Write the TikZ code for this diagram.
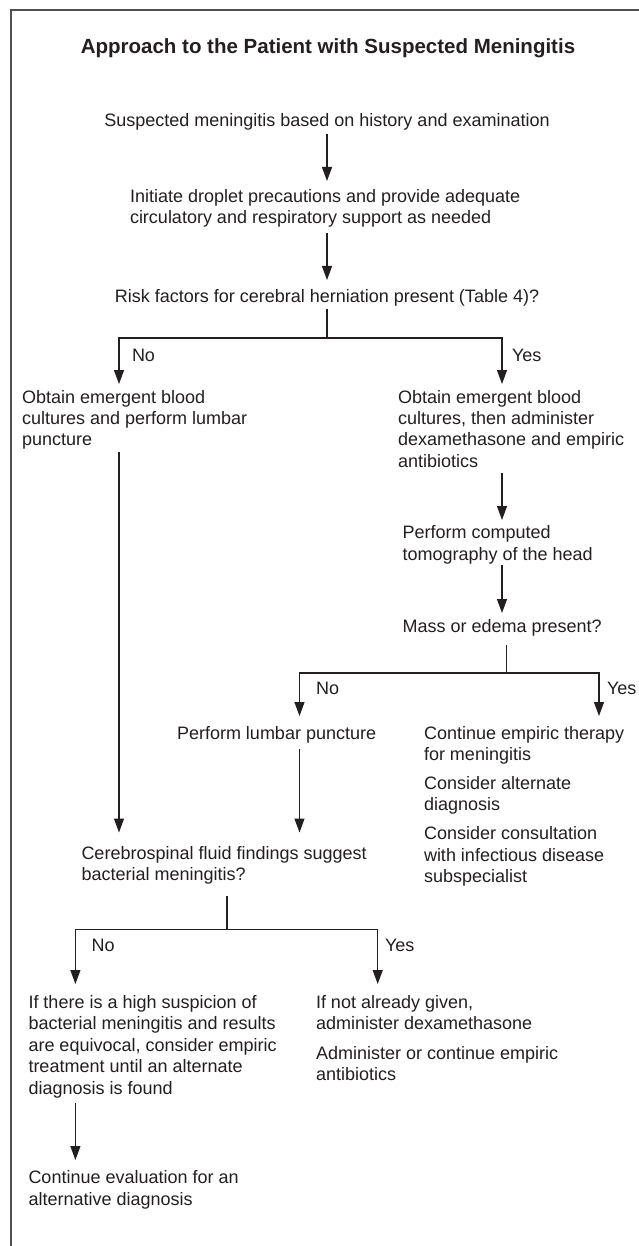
\documentclass[tikz,border=0pt]{standalone}
\usepackage{fontspec}
\setmainfont{Liberation Sans}
\usetikzlibrary{arrows.meta}
\definecolor{ink}{RGB}{35,31,32}
\definecolor{framec}{RGB}{80,80,80}
\begin{document}
\begin{tikzpicture}[x=1pt,y=-1pt,
  txt/.style={inner sep=0pt, outer sep=0pt, text=ink, font=\fontsize{18}{21.4}\selectfont, align=left, anchor=north west},
  ctxt/.style={txt, anchor=north, align=center},
  conn/.style={draw=ink, line width=1.1pt},
  arr/.style={conn, -{Triangle[length=14pt,width=10pt]}},
]
\useasboundingbox (0,0) rectangle (639,1246);
\fill[white] (0,0) rectangle (639,1246);
\draw[draw=framec, line width=1.3pt] (11,1247) -- (11,10) -- (640,10);

% text nodes
\node[ctxt, font=\fontsize{20.5}{24}\selectfont\bfseries] (title) at (328,39) {Approach to the Patient with Suspected Meningitis};
\node[ctxt] (susp) at (327,113) {Suspected meningitis based on history and examination};
\node[txt] (init) at (130,189.5) {Initiate droplet precautions and provide adequate\\circulatory and respiratory support as needed};
\node[ctxt] (risk) at (327,289) {Risk factors for cerebral herniation present (Table 4)?};
\node[txt] (lobt) at (22,390) {Obtain emergent blood\\cultures and perform lumbar\\puncture};
\node[txt] (robt) at (398,390) {Obtain emergent blood\\cultures, then administer\\dexamethasone and empiric\\antibiotics};
\node[txt] (ct) at (402.6,525.6) {Perform computed\\tomography of the head};
\node[txt] (mass) at (402.6,619) {Mass or edema present?};
\node[txt] (lp) at (177,726) {Perform lumbar puncture};
\node[txt] (cont) at (424,726) {Continue empiric therapy\\for meningitis\\[7.6pt]Consider alternate\\diagnosis\\[7.6pt]Consider consultation\\with infectious disease\\subspecialist};
\node[txt] (csf) at (81.5,846.5) {Cerebrospinal fluid findings suggest\\bacterial meningitis?};
\node[txt] (highs) at (28.5,995.4) {If there is a high suspicion of\\bacterial meningitis and results\\are equivocal, consider empiric\\treatment until an alternate\\diagnosis is found};
\node[txt] (give) at (316,995.4) {If not already given,\\administer dexamethasone\\[8pt]Administer or continue empiric\\antibiotics};
\node[txt] (eval) at (28.5,1170.7) {Continue evaluation for an\\alternative diagnosis};

% branch labels
\node[txt] (no1) at (132,349) {No};
\node[txt] (yes1) at (512,349) {Yes};
\node[txt] (no2) at (316,682) {No};
\node[txt] (yes2) at (607,682) {Yes};
\node[txt] (no3) at (91.7,939) {No};
\node[txt] (yes3) at (385,939) {Yes};

% helper coordinates
\coordinate (ax) at (327,0);
\coordinate (xl) at (119,0);
\coordinate (xr) at (502,0);
\coordinate (j1) at (327,338);
\coordinate (j2) at (506.5,673);
\coordinate (xlp) at (299.5,0);
\coordinate (xy2) at (599,0);
\coordinate (j3) at (227,929.4);
\coordinate (xn3) at (75.4,0);
\coordinate (xy3) at (377.7,0);

% connectors
\draw[arr, shorten <=4.3pt, shorten >=8.5pt] (susp.south -| ax) -- (init.north -| ax);
\draw[arr, shorten <=4.9pt, shorten >=9pt] (init.south -| ax) -- (risk.north);
\draw[conn, shorten <=3.3pt] (risk.south) -- (j1);
\draw[arr, shorten >=6pt] (j1) -| (xl |- lobt.north);
\draw[arr, shorten >=6pt] (j1) -| (xr |- robt.north);
\draw[arr, shorten <=5.4pt, shorten >=5.6pt] (robt.south -| xr) -- (ct.north -| xr);
\draw[arr, shorten <=1.3pt, shorten >=6pt] (ct.south -| xr) -- (mass.north -| xr);
\draw[conn, shorten <=9.3pt] (mass.south -| j2) -- (j2);
\draw[arr, shorten >=10pt] (j2) -| (xlp |- lp.north);
\draw[arr, shorten >=10pt] (j2) -| (xy2 |- cont.north);
\draw[arr, shorten <=2.5pt, shorten >=14pt] (lobt.south -| xl) -- (csf.north -| xl);
\draw[arr, shorten <=5.8pt, shorten >=14pt] (lp.south -| xlp) -- (csf.north -| xlp);
\draw[conn, shorten <=11pt] (csf.south -| j3) -- (j3);
\draw[arr, shorten >=11.4pt] (j3) -| (xn3 |- highs.north);
\draw[arr, shorten >=11.4pt] (j3) -| (xy3 |- give.north);
\draw[arr, shorten <=5.3pt, shorten >=10.7pt] (highs.south -| xn3) -- (eval.north -| xn3);
\end{tikzpicture}
\end{document}
